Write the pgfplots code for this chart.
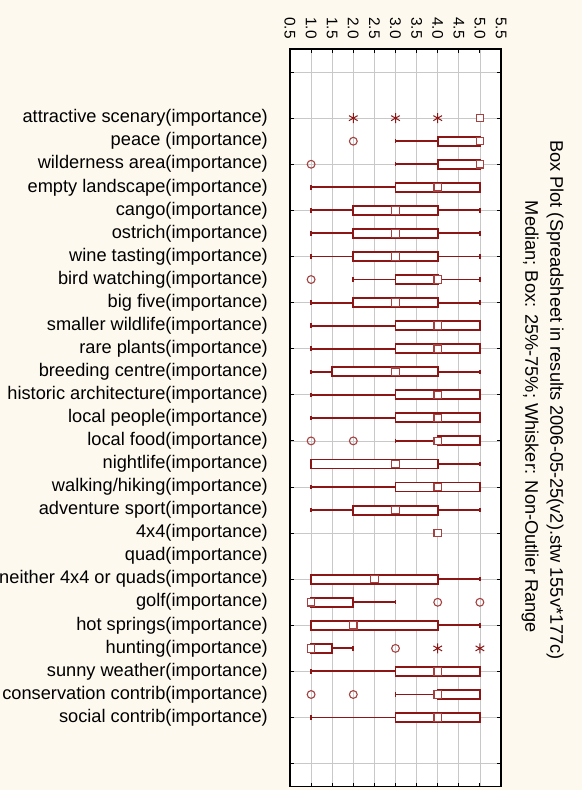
\documentclass[border=0pt]{standalone}
\usepackage{fontspec}
\setmainfont{Liberation Sans}
\usepackage{pgfplots}
\pgfplotsset{compat=1.18}
\usepgfplotslibrary{statistics}
\definecolor{bg}{RGB}{253,249,238}
\definecolor{bred}{RGB}{140,22,22}
\definecolor{mred}{RGB}{165,65,65}
\definecolor{gridgray}{RGB}{200,200,200}
\newcommand\lbl{\fontsize{18.3}{21}\selectfont}
\newcommand\tlbl{\fontsize{15.5}{18}\selectfont}
\pgfplotsset{boxplot/draw/median/.code={},
  boxplot/every whisker/.style={line width=1.9bp},
  boxplot/every box/.style={line width=1.9bp},
  bstyle/.style={bred, line width=1.9bp, fill=white, solid}}
\newcommand\bx[6]{\addplot[bstyle, boxplot prepared={draw position=#1, lower whisker=#2, lower quartile=#3, median=#4, upper quartile=#5, upper whisker=#6, box extend=0.39, whisker extend=0.19}] coordinates {};}
\begin{document}
\begin{tikzpicture}[x=1bp,y=1bp]
\fill[bg] (0,0) rectangle (582,790);
\begin{axis}[
  at={(290bp,3.3bp)}, anchor=south west,
  scale only axis, width=211bp, height=737.7bp,
  xmin=0.5, xmax=5.5, ymin=-3, ymax=29, y dir=reverse,
  axis background/.style={fill=white},
  axis line style={black, line width=1.5bp},
  /pgf/number format/assume math mode=true,
  xtick={0.5,1,1.5,2,2.5,3,3.5,4,4.5,5,5.5},
  xticklabels={0.5,1.0,1.5,2.0,2.5,3.0,3.5,4.0,4.5,5.0,5.5},
  xticklabel pos=right,
  xticklabel style={rotate=-90, anchor=east, inner sep=0pt, font=\tlbl},
  xticklabel shift=10bp,
  tick align=inside, major tick length=4bp,
  tick style={black, line width=1bp},
  xmajorgrids, ymajorgrids,
  grid style={gridgray, line width=0.8bp},
  ytick={-2,0,2,4,6,8,10,12,14,16,18,20,22,24,26,28},
  yticklabels={},
  extra y ticks={0,1,2,3,4,5,6,7,8,9,10,11,12,13,14,15,16,17,18,19,20,21,22,23,24,25,26},
  extra y tick labels={attractive scenary(importance),peace (importance),wilderness area(importance),empty landscape(importance),cango(importance),ostrich(importance),wine tasting(importance),bird watching(importance),big five(importance),smaller wildlife(importance),rare plants(importance),breeding centre(importance),historic architecture(importance),local people(importance),local food(importance),nightlife(importance),walking/hiking(importance),adventure sport(importance),4x4(importance),quad(importance),neither 4x4 or quads(importance),golf(importance),hot springs(importance),hunting(importance),sunny weather(importance),conservation contrib(importance),social contrib(importance)},
  extra y tick style={ymajorgrids=false, major tick length=0pt,
    yticklabel style={anchor=east, inner sep=0pt, xshift=-22bp, font=\lbl}},
]
\bx{1}{3}{4}{5}{5}{5}
\bx{2}{3}{4}{5}{5}{5}
\bx{3}{1}{3}{4}{5}{5}
\bx{4}{1}{2}{3}{4}{5}
\bx{5}{1}{2}{3}{4}{5}
\bx{6}{1}{2}{3}{4}{5}
\bx{7}{2}{3}{4}{4}{5}
\bx{8}{1}{2}{3}{4}{5}
\bx{9}{1}{3}{4}{5}{5}
\bx{10}{1}{3}{4}{5}{5}
\bx{11}{1}{1.5}{3}{4}{5}
\bx{12}{1}{3}{4}{5}{5}
\bx{13}{1}{3}{4}{5}{5}
\bx{14}{3}{4}{4}{5}{5}
\bx{15}{1}{1}{3}{4}{5}
\bx{16}{1}{3}{4}{5}{5}
\bx{17}{1}{2}{3}{4}{5}
\bx{20}{1}{1}{2.5}{4}{5}
\bx{21}{1}{1}{1}{2}{3}
\bx{22}{1}{1}{2}{4}{5}
\bx{23}{1}{1}{1}{1.5}{2}
\bx{24}{1}{3}{4}{5}{5}
\bx{25}{3}{4}{4}{5}{5}
\bx{26}{1}{3}{4}{5}{5}
% medians
\addplot[only marks, mark=square*, mark size=3.7bp, mark options={fill=white, draw=mred, line width=1.1bp, solid}]
coordinates {(5,0)(5,1)(5,2)(4,3)(3,4)(3,5)(3,6)(4,7)(3,8)(4,9)(4,10)(3,11)(4,12)(4,13)(4,14)(3,15)(4,16)(3,17)(4,18)(2.5,20)(1,21)(2,22)(1,23)(4,24)(4,25)(4,26)};
% outliers
\addplot[only marks, mark=o, mark size=3.9bp, mark options={draw=mred, line width=1.1bp, solid}]
coordinates {(2,1)(1,2)(1,7)(1,14)(2,14)(4,21)(5,21)(3,23)(1,25)(2,25)};
% extremes
\addplot[only marks, mark=asterisk, mark size=5bp, mark options={draw=bred, line width=1bp, solid}]
coordinates {(2,0)(3,0)(4,0)(4,23)(5,23)};
\end{axis}
\node[rotate=-90, font=\lbl, anchor=center] at (555,390) {Box Plot (Spreadsheet in results 2006-05-25(v2).stw 155v*177c)};
\node[rotate=-90, font=\lbl, anchor=center] at (530,373) {Median; Box: 25\%-75\%; Whisker: Non-Outlier Range};
\pgfresetboundingbox
\useasboundingbox (0,0) rectangle (582,790);
\end{tikzpicture}
\end{document}
